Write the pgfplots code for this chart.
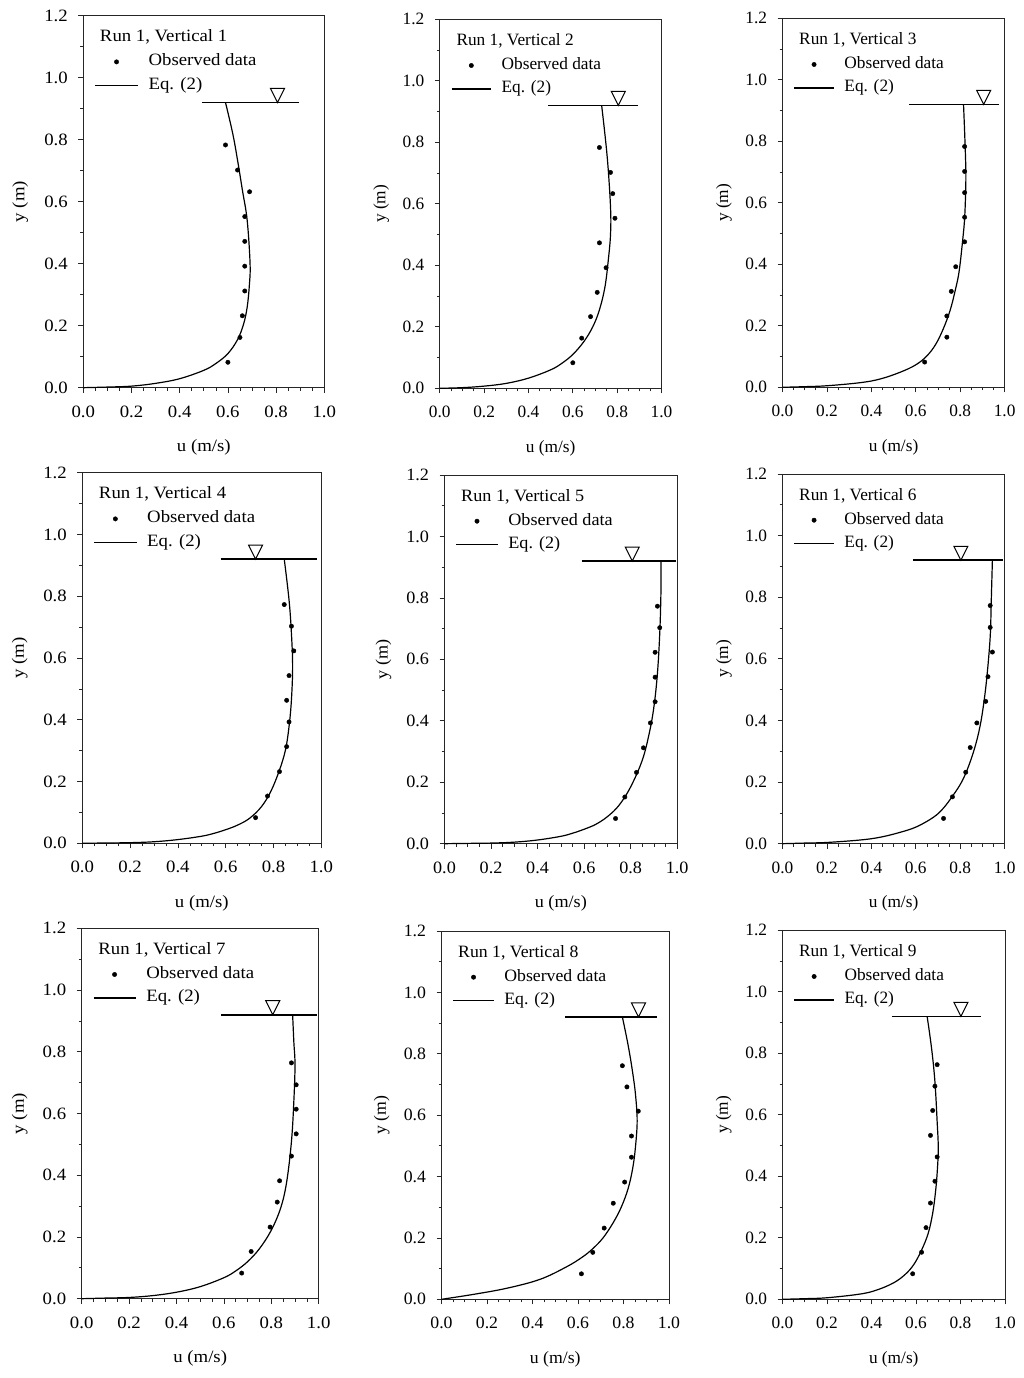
\documentclass[border=0pt]{standalone}
\usepackage{pgfplots}
\pgfplotsset{compat=1.18}
\usepackage{fontspec}
\setmainfont{Liberation Serif}
% the panels of the scan are squeezed by different amounts
\newfontfamily\fwide[FakeStretch=1.085]{Liberation Serif}
\newfontfamily\fmid[FakeStretch=1.05]{Liberation Serif}
\newfontfamily\fsl[FakeStretch=1.025]{Liberation Serif}
\newfontfamily\fnarrow{Liberation Serif}

\pgfdeclareplotmark{nabla}{%
  \pgfpathmoveto{\pgfpoint{-7pt}{14pt}}%
  \pgfpathlineto{\pgfpoint{7pt}{14pt}}%
  \pgfpathlineto{\pgfpoint{0pt}{0pt}}%
  \pgfpathclose
  \pgfusepathqstroke
}

\pgfplotsset{
  panel/.style={
    scale only axis, xmin=0, xmax=1, ymin=0, ymax=1.2,
    xtick={0,0.2,...,1}, ytick={0,0.2,...,1.2},
    minor x tick num=3, minor y tick num=1,
    tick align=outside, axis line style={line width=0.8pt, black!85},
    every tick/.style={black!85, line width=0.7pt},
    major tick length=5pt, minor tick length=3pt,
    xtick pos=bottom, ytick pos=left,
    /pgf/number format/assume math mode=true,
    /pgf/number format/fixed, /pgf/number format/fixed zerofill, /pgf/number format/precision=1,
    xticklabel style={yshift=-9.5pt},
    yticklabel style={xshift=-7pt},
    xlabel={u (m/s)}, ylabel={y (m)},
    xlabel style={at={(axis description cs:0.5,0)}, anchor=center, yshift=-60pt},
    ylabel style={at={(axis description cs:0,0.5)}, anchor=center},
    clip=false,
    legend image code/.code={\draw[mark repeat=2,mark phase=2,##1] plot coordinates {(0pt,0pt)(\samplemid,0pt)(\samplelen,0pt)};},
    legend style={draw=none, fill=none, at={(0,1)}, anchor=north west,
      xshift=11pt, yshift=-36.5pt, inner sep=0pt, cells={anchor=west},
      row sep=4.5pt, nodes={inner sep=2pt, text height=11.5pt, text depth=3.5pt},
      /tikz/column 1/.style={column sep=8pt}},
    legend cell align=left,
  },
  dots/.style={only marks, mark=*, mark size=2.2pt, black},
  curve/.style={black, line width=1.2pt, no markers, smooth, tension=0.6},
  surface/.style={black, line width=1.7pt, no markers, forget plot},
  wl/.style={only marks, mark=nabla, mark options={solid, line width=1pt, draw=black}, forget plot},
}

% #1 left px, #2 right px, #3 top px, #4 bottom px, #5 font, #6 panel no,
% #7 dots, #8 curve, #9 surface line; \apex is where the triangle sits
\newcommand\panel[9]{%
  \def\pf{\fontsize{17.3}{19}#5\selectfont}%
  \pgfmathsetlengthmacro\pw{(#2-#1)*1pt}%
  \pgfmathsetlengthmacro\ph{(#4-#3)*1pt}%
  \pgfmathsetlengthmacro\py{(1378-#4)*1pt}%
  \pgfmathsetlengthmacro\px{#1*1pt}%
  \pgfmathsetlengthmacro\samplelen{(#2-#1)*0.178*1pt}%
  \pgfmathsetlengthmacro\samplemid{(#2-#1)*0.089*1pt}%
  \pgfmathsetlengthmacro\ylshift{(58.6+(#2-#1-222)*0.23)*1pt}%
  \begin{axis}[panel, at={(\px,\py)}, anchor=south west, width=\pw, height=\ph,
    tick label style={font=\pf}, label style={font=\pf},
    ylabel style={yshift=\ylshift},
    legend style={font=\pf}]
    \addplot[dots] coordinates {#7};
    \addlegendentry{Observed data}
    \addplot[curve] coordinates {#8};
    \addlegendentry{Eq. (2)}
    \addplot[surface] coordinates {#9};
    \addplot[wl] coordinates {(\apex,0.92)};
    \node[anchor=west, font=\pf, inner sep=0pt] at (rel axis cs:0,1) [xshift=16.5pt, yshift=-21.5pt] {Run 1, Vertical #6};
  \end{axis}}

\begin{document}
\begin{tikzpicture}[x=1pt,y=1pt]
\path[use as bounding box] (0,0) rectangle (1024,1378);

\def\apex{0.806}
\panel{83.3}{324.3}{15.7}{387.7}{\fwide}{1}
 {(0.60,0.082)(0.65,0.162)(0.66,0.232)(0.67,0.312)(0.67,0.392)(0.67,0.472)(0.67,0.552)(0.69,0.632)(0.64,0.702)(0.59,0.783)}
 {(0,0)(0.1,0.002)(0.2,0.005)(0.3,0.014)(0.4,0.029)(0.5,0.056)(0.55,0.078)(0.6,0.11)(0.64,0.155)(0.665,0.205)(0.68,0.26)(0.689,0.33)(0.692,0.40)(0.68,0.54)(0.66,0.638)(0.64,0.734)(0.62,0.82)(0.59,0.92)}
 {(0.492,0.92)(0.895,0.92)}
\def\apex{0.805}
\panel{439.8}{661.5}{19.3}{388.3}{\fnarrow}{2}
 {(0.60,0.083)(0.64,0.163)(0.68,0.233)(0.71,0.312)(0.75,0.392)(0.72,0.473)(0.79,0.553)(0.78,0.633)(0.77,0.702)(0.72,0.783)}
 {(0,0)(0.1,0.002)(0.2,0.007)(0.3,0.016)(0.4,0.033)(0.5,0.06)(0.55,0.081)(0.6,0.11)(0.65,0.152)(0.69,0.2)(0.72,0.255)(0.745,0.33)(0.76,0.417)(0.77,0.50)(0.77,0.59)(0.755,0.753)(0.73,0.92)}
 {(0.49,0.92)(0.893,0.92)}
\def\apex{0.906}
\panel{782.5}{1004.6}{18.3}{387.3}{\fnarrow}{3}
 {(0.64,0.082)(0.74,0.163)(0.74,0.232)(0.76,0.312)(0.78,0.392)(0.82,0.473)(0.82,0.553)(0.82,0.633)(0.82,0.702)(0.82,0.783)}
 {(0,0)(0.1,0.002)(0.2,0.005)(0.35,0.015)(0.44,0.027)(0.53,0.049)(0.6,0.073)(0.65,0.102)(0.69,0.14)(0.725,0.192)(0.755,0.251)(0.778,0.316)(0.795,0.376)(0.81,0.47)(0.82,0.55)(0.825,0.65)(0.825,0.72)(0.82,0.83)(0.815,0.92)}
 {(0.57,0.92)(0.975,0.92)}
\def\apex{0.725}
\panel{82.3}{321.3}{472.7}{843.3}{\fwide}{4}
 {(0.725,0.083)(0.775,0.153)(0.825,0.232)(0.855,0.313)(0.865,0.393)(0.855,0.463)(0.865,0.543)(0.885,0.623)(0.875,0.703)(0.845,0.773)}
 {(0,0)(0.1,0.001)(0.2,0.002)(0.3,0.005)(0.4,0.012)(0.5,0.023)(0.55,0.032)(0.6,0.044)(0.65,0.059)(0.7,0.081)(0.75,0.119)(0.79,0.17)(0.825,0.237)(0.85,0.302)(0.865,0.378)(0.875,0.464)(0.88,0.572)(0.875,0.68)(0.865,0.788)(0.845,0.92)}
 {(0.579,0.92)(0.982,0.92)}
\def\apex{0.807}
\panel{444.5}{677.2}{475}{843.7}{\fmid}{5}
 {(0.735,0.082)(0.775,0.152)(0.825,0.232)(0.855,0.312)(0.885,0.393)(0.905,0.462)(0.905,0.542)(0.905,0.623)(0.925,0.703)(0.915,0.773)}
 {(0,0)(0.1,0.001)(0.2,0.002)(0.3,0.005)(0.4,0.012)(0.5,0.024)(0.55,0.034)(0.6,0.047)(0.65,0.063)(0.7,0.088)(0.75,0.125)(0.8,0.185)(0.85,0.272)(0.88,0.36)(0.90,0.446)(0.915,0.554)(0.925,0.685)(0.93,0.815)(0.93,0.92)}
 {(0.589,0.92)(0.993,0.92)}
\def\apex{0.803}
\panel{782.5}{1004.6}{474}{843.7}{\fnarrow}{6}
 {(0.725,0.082)(0.765,0.152)(0.825,0.232)(0.845,0.312)(0.875,0.392)(0.915,0.462)(0.925,0.542)(0.945,0.622)(0.935,0.702)(0.935,0.773)}
 {(0,0)(0.1,0.002)(0.2,0.004)(0.35,0.012)(0.44,0.021)(0.53,0.037)(0.604,0.055)(0.68,0.086)(0.724,0.115)(0.769,0.158)(0.807,0.201)(0.837,0.25)(0.867,0.315)(0.889,0.38)(0.905,0.45)(0.92,0.54)(0.935,0.67)(0.94,0.79)(0.945,0.92)}
 {(0.587,0.92)(0.992,0.92)}
\def\apex{0.806}
\panel{81.7}{318.7}{928.3}{1298.7}{\fwide}{7}
 {(0.675,0.083)(0.715,0.153)(0.795,0.232)(0.825,0.313)(0.835,0.382)(0.885,0.462)(0.905,0.534)(0.905,0.614)(0.905,0.693)(0.885,0.764)}
 {(0,0)(0.1,0.002)(0.2,0.004)(0.3,0.01)(0.4,0.021)(0.5,0.039)(0.6,0.068)(0.65,0.09)(0.7,0.12)(0.75,0.162)(0.8,0.222)(0.84,0.295)(0.865,0.379)(0.885,0.509)(0.895,0.638)(0.90,0.757)(0.895,0.833)(0.89,0.92)}
 {(0.589,0.92)(0.993,0.92)}
\def\apex{0.866}
\panel{441.5}{669}{931}{1299.3}{\fsl}{8}
 {(0.615,0.083)(0.665,0.153)(0.715,0.232)(0.755,0.313)(0.805,0.382)(0.835,0.463)(0.835,0.532)(0.865,0.613)(0.815,0.692)(0.795,0.761)}
 {(0,0)(0.14,0.016)(0.287,0.036)(0.433,0.065)(0.55,0.106)(0.62,0.138)(0.665,0.165)(0.71,0.2)(0.755,0.25)(0.79,0.30)(0.82,0.36)(0.84,0.425)(0.852,0.492)(0.86,0.58)(0.853,0.665)(0.84,0.74)(0.82,0.829)(0.795,0.92)}
 {(0.545,0.92)(0.948,0.92)}
\def\apex{0.802}
\panel{782.5}{1005}{930.3}{1299.3}{\fnarrow}{9}
 {(0.585,0.083)(0.625,0.153)(0.645,0.233)(0.665,0.313)(0.685,0.384)(0.695,0.463)(0.665,0.533)(0.675,0.614)(0.685,0.693)(0.695,0.763)}
 {(0,0)(0.1,0.002)(0.2,0.005)(0.348,0.017)(0.423,0.03)(0.498,0.053)(0.55,0.08)(0.59,0.113)(0.625,0.16)(0.655,0.215)(0.675,0.28)(0.687,0.345)(0.695,0.41)(0.70,0.491)(0.695,0.578)(0.685,0.708)(0.67,0.816)(0.65,0.92)}
 {(0.491,0.92)(0.893,0.92)}
\end{tikzpicture}
\end{document}
